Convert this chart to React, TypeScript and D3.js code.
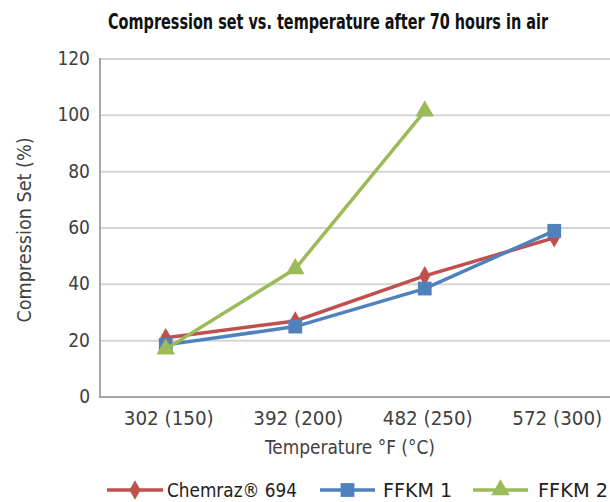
import { useEffect, useRef } from 'react';
import * as d3 from 'd3';

const categories = ['302 (150)', '392 (200)', '482 (250)', '572 (300)'];
const chemraz = [21, 27, 43, 56.5];
const ffkm1 = [18.5, 25, 38.5, 59];
const ffkm2 = [17, 45.5, 101.5];
const yTicks = [0, 20, 40, 60, 80, 100, 120];

const series = [
  { name: 'Chemraz® 694', values: chemraz, color: '#c0504d', symbol: d3.symbolDiamond, size: 110 },
  { name: 'FFKM 1', values: ffkm1, color: '#4f81bd', symbol: d3.symbolSquare, size: 190 },
  { name: 'FFKM 2', values: ffkm2, color: '#9bbb59', symbol: d3.symbolTriangle, size: 150 },
];

const W = 610;
const H = 502;
const FONT = '"Liberation Sans Narrow", "DejaVu Sans Condensed", Roboto, sans-serif';

export default function App() {
  const ref = useRef<SVGSVGElement>(null);

  useEffect(() => {
    if (!ref.current) return;
    const svg = d3.select(ref.current);
    svg.selectAll('*').remove();

    const x = d3.scaleBand<string>().domain(categories).range([101, 619]);
    const y = d3.scaleLinear().domain([0, 120]).range([397, 59]);
    const cx = (i: number) => (x(categories[i]) as number) + x.bandwidth() / 2;

    // title (condensed look: small font stretched vertically)
    svg.append('text')
      .attr('transform', 'translate(328,29) scale(1,1.5)')
      .attr('text-anchor', 'middle')
      .attr('font-family', FONT).attr('font-weight', 'bold')
      .attr('font-size', 14.7).attr('fill', '#111')
      .attr('textLength', 440).attr('lengthAdjust', 'spacingAndGlyphs')
      .text('Compression set vs. temperature after 70 hours in air');

    // gridlines
    svg.append('g').selectAll('line').data(yTicks.slice(1)).join('line')
      .attr('x1', 101).attr('x2', W)
      .attr('y1', d => y(d)).attr('y2', d => y(d))
      .attr('stroke', '#d4d4d4').attr('stroke-width', 2);

    // axes lines
    svg.append('line').attr('x1', 100).attr('x2', 100).attr('y1', 58).attr('y2', 398)
      .attr('stroke', '#a6a6a6').attr('stroke-width', 2);
    svg.append('line').attr('x1', 100).attr('x2', W).attr('y1', 397).attr('y2', 397)
      .attr('stroke', '#a6a6a6').attr('stroke-width', 2);

    // y tick labels
    svg.append('g').selectAll('text').data(yTicks).join('text')
      .attr('x', 90).attr('y', d => y(d) + 6)
      .attr('text-anchor', 'end')
      .attr('font-family', FONT).attr('font-size', 19).attr('fill', '#404040')
      .text(d => d);

    // x tick labels
    svg.append('g').selectAll('text').data(categories).join('text')
      .attr('x', (d, i) => cx(i) + 3).attr('y', 425)
      .attr('text-anchor', 'middle')
      .attr('font-family', FONT).attr('font-size', 19).attr('fill', '#404040')
      .attr('textLength', 90).attr('lengthAdjust', 'spacingAndGlyphs')
      .text(d => d);

    // axis titles
    svg.append('text')
      .attr('x', 350).attr('y', 454)
      .attr('text-anchor', 'middle')
      .attr('font-family', FONT).attr('font-size', 19).attr('fill', '#404040')
      .attr('textLength', 170).attr('lengthAdjust', 'spacingAndGlyphs')
      .text('Temperature °F (°C)');
    svg.append('text')
      .attr('transform', 'translate(31,230) rotate(-90)')
      .attr('text-anchor', 'middle')
      .attr('font-family', FONT).attr('font-size', 19).attr('fill', '#404040')
      .attr('textLength', 185).attr('lengthAdjust', 'spacingAndGlyphs')
      .text('Compression Set (%)');

    // series
    const line = d3.line<number>().x((d, i) => cx(i)).y(d => y(d));
    series.forEach(s => {
      svg.append('path').datum(s.values)
        .attr('d', line)
        .attr('fill', 'none').attr('stroke', s.color).attr('stroke-width', 3.5);
      svg.append('g').selectAll('path').data(s.values).join('path')
        .attr('d', d3.symbol().type(s.symbol).size(s.size)())
        .attr('transform', (d, i) => `translate(${cx(i)},${y(d)})`)
        .attr('fill', s.color);
    });

    // legend
    const legend = [
      { x0: 107, x1: 163, tx: 167, tw: 130 },
      { x0: 320, x1: 375, tx: 383, tw: 69 },
      { x0: 473, x1: 528, tx: 538, tw: 70 },
    ];
    series.forEach((s, i) => {
      const l = legend[i];
      const g = svg.append('g');
      g.append('line').attr('x1', l.x0).attr('x2', l.x1).attr('y1', 490).attr('y2', 490)
        .attr('stroke', s.color).attr('stroke-width', 3.5);
      g.append('path')
        .attr('d', d3.symbol().type(s.symbol).size(s.size)())
        .attr('transform', `translate(${(l.x0 + l.x1) / 2},490)`)
        .attr('fill', s.color);
      g.append('text')
        .attr('x', l.tx).attr('y', 497)
        .attr('font-family', FONT).attr('font-size', 20).attr('fill', '#222')
        .attr('textLength', l.tw).attr('lengthAdjust', 'spacingAndGlyphs')
        .text(s.name);
    });
  }, []);

  return <svg ref={ref} width={W} height={H} style={{ display: 'block', position: 'absolute', left: 0, top: 0, background: '#fff' }} />;
}
